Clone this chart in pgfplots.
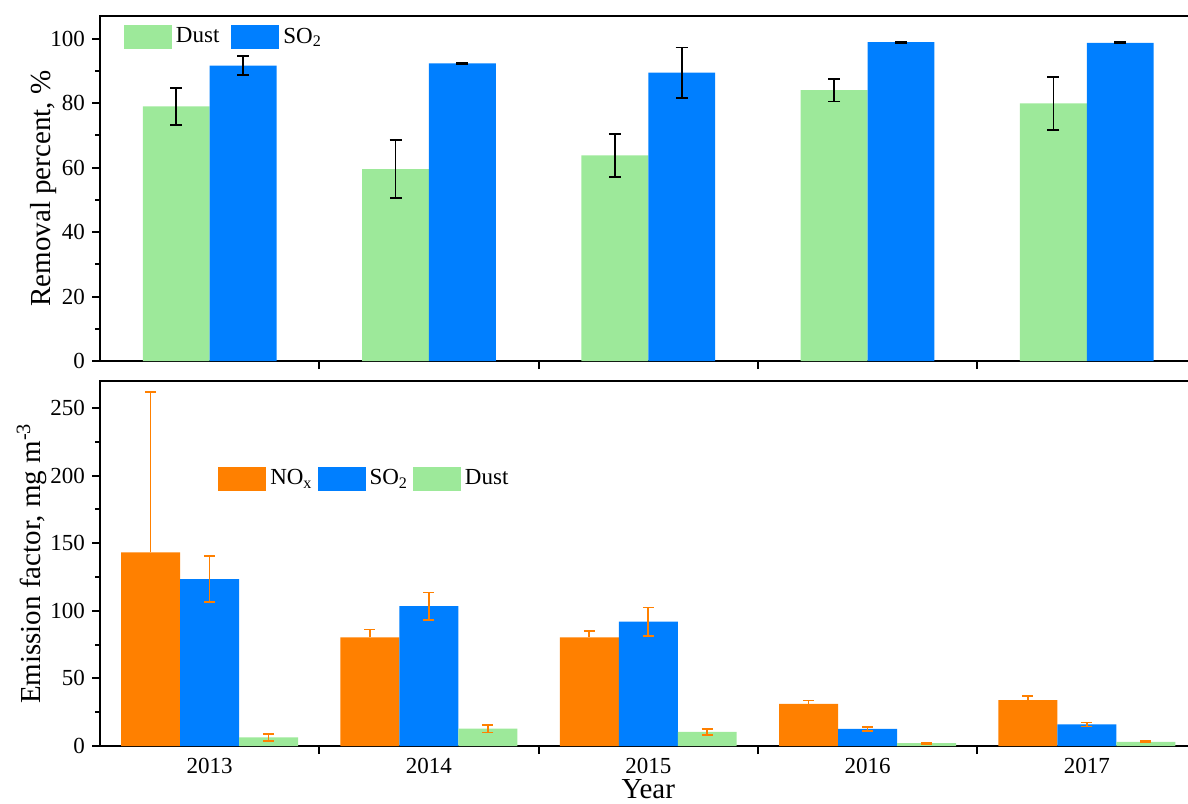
\documentclass[border=0pt]{standalone}
\usepackage{fontspec}
\setmainfont{Liberation Serif}
\usepackage{pgfplots}
\usepackage{pgfplotstable}
\pgfplotsset{compat=1.18}
\definecolor{cgreen}{RGB}{157,233,154}
\definecolor{cblue}{RGB}{0,127,255}
\definecolor{corange}{RGB}{255,128,0}

\pgfplotstableread{
x dust dusterr so2 so2err
0 79.0 5.7 91.6 3.0
1 59.5 9.0 92.3 0.3
2 63.8 6.7 89.4 7.8
3 84.0 3.5 98.9 0.2
4 79.9 8.3 98.7 0.2
}\toptable

\pgfplotstableread{
x nox noxerr so2 so2err dust dusterr
0 143.3 118.5 123.4 17.0 6.4 2.5
1 80.4 5.7 103.4 10.1 12.8 2.7
2 80.4 4.5 92.0 10.5 10.4 2.2
3 31.1 2.5 12.6 1.6 2.2 0.5
4 34.0 3.0 16.0 1.5 3.0 0.5
}\bottable

\pgfplotsset{
  mylegend/.style={legend image code/.code={\fill[##1] (0pt,-6pt) rectangle (24pt,6pt);}},
  common/.style={
    scale only axis, width=548.25pt,
    xmin=-0.5, xmax=4.5, ymin=0,
    ybar,
    axis line style={line width=1pt},
    every tick/.style={line width=1pt, black},
    tick align=outside,
    major tick length=4pt, minor tick length=2.5pt,
    xtick pos=bottom, ytick pos=left,
    xtick={0,1,2,3,4},
    xtick style={draw=none},
    extra x ticks={0.5,1.5,2.5,3.5},
    extra x tick labels={},
    extra x tick style={xtick style={draw=black, line width=1pt}},
    /pgf/number format/assume math mode=true,
    tick label style={font=\fontsize{11.5}{13}\selectfont},
    xticklabel style={yshift=1.5pt},
    label style={font=\fontsize{14.5}{16}\selectfont},
    legend style={draw=none, fill=none, font=\fontsize{11.5}{13}\selectfont},
    legend columns=-1,
    legend cell align=left,
  },
}

\begin{document}
\begin{tikzpicture}
\begin{axis}[common,
  at={(50pt,-8pt)}, anchor=north west, height=172.5pt,
  ymax=107, ytick={0,20,...,100}, minor ytick={10,30,...,90},
  xticklabels={},
  bar width=0.305,
  ylabel={Removal percent, \%},
  ylabel style={at={(axis description cs:-0.0456,0.5)}, anchor=base},
  legend style={at={(axis description cs:0.016,0.99)}, anchor=north west,
    /tikz/every even column/.append style={column sep=4pt}},
]
\addplot[fill=cgreen, draw=none, bar shift=-0.1525,
  error bars/.cd, y dir=both, y explicit,
  error bar style={black, line width=0.9pt},
  error mark options={rotate=90, black, mark size=3pt, line width=0.9pt},
  /pgfplots/.cd, mylegend]
  table[x=x, y=dust, y error=dusterr]{\toptable};
\addlegendentry{Dust}
\addplot[fill=cblue, draw=none, bar shift=0.1525,
  error bars/.cd, y dir=both, y explicit,
  error bar style={black, line width=0.9pt},
  error mark options={rotate=90, black, mark size=3pt, line width=0.9pt},
  /pgfplots/.cd, mylegend]
  table[x=x, y=so2, y error=so2err]{\toptable};
\addlegendentry{SO\textsubscript{2}}
\end{axis}

\begin{axis}[common,
  at={(50pt,-190.5pt)}, anchor=north west, height=182.5pt,
  ymax=270, ytick={0,50,...,250}, minor ytick={25,75,...,225},
  xticklabels={2013,2014,2015,2016,2017},
  bar width=0.269,
  xlabel={Year},
  xlabel style={at={(axis description cs:0.5,-0.143)}, anchor=base},
  ylabel={Emission factor, mg m\textsuperscript{-3}},
  ylabel style={at={(axis description cs:-0.0542,0.5)}, anchor=base},
  legend style={at={(axis description cs:0.102,0.78)}, anchor=north west,
    /tikz/every even column/.append style={column sep=0.5pt}},
]
\addplot[fill=corange, draw=none, bar shift=-0.269,
  error bars/.cd, y dir=plus, y explicit,
  error bar style={corange, line width=0.8pt},
  error mark options={rotate=90, corange, mark size=2.75pt, line width=0.8pt},
  /pgfplots/.cd, mylegend]
  table[x=x, y=nox, y error=noxerr]{\bottable};
\addlegendentry{NO\textsubscript{x}}
\addplot[fill=cblue, draw=none, bar shift=0,
  error bars/.cd, y dir=both, y explicit,
  error bar style={corange, line width=0.8pt},
  error mark options={rotate=90, corange, mark size=2.75pt, line width=0.8pt},
  /pgfplots/.cd, mylegend]
  table[x=x, y=so2, y error=so2err]{\bottable};
\addlegendentry{SO\textsubscript{2}}
\addplot[fill=cgreen, draw=none, bar shift=0.269,
  error bars/.cd, y dir=both, y explicit,
  error bar style={corange, line width=0.8pt},
  error mark options={rotate=90, corange, mark size=2.75pt, line width=0.8pt},
  /pgfplots/.cd, mylegend]
  table[x=x, y=dust, y error=dusterr]{\bottable};
\addlegendentry{Dust}
\end{axis}
\pgfresetboundingbox
\path[use as bounding box] (0,0) rectangle (594pt,-401.5pt);
\end{tikzpicture}
\end{document}
